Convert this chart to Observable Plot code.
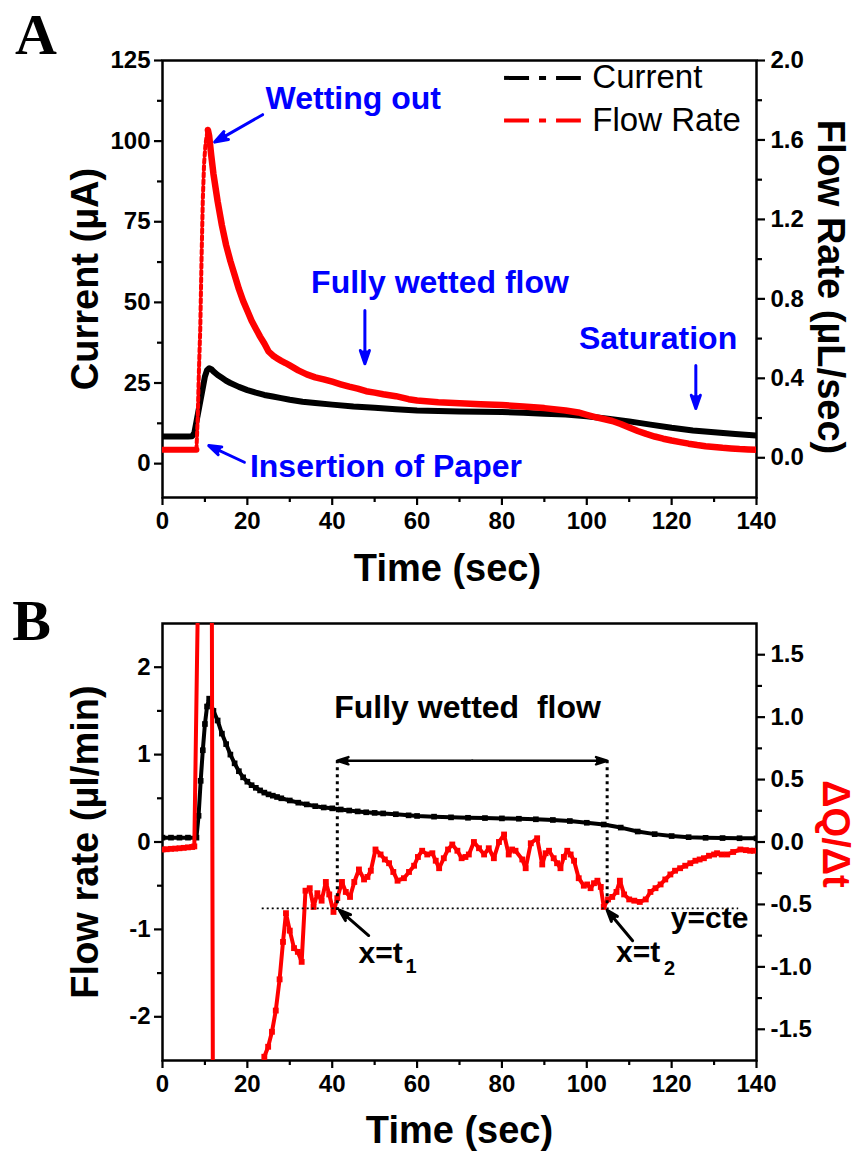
<!DOCTYPE html>
<html><head><meta charset="utf-8">
<script src="https://cdn.jsdelivr.net/npm/d3@7"></script>
<script src="https://cdn.jsdelivr.net/npm/@observablehq/plot@0.6"></script>
<style>
body{margin:0;background:#fff;}
#wrap{width:861px;height:1156px;position:relative;background:#fff;}
#wrap svg{display:block;overflow:visible;}
</style></head><body><div id="wrap"></div>
<script>
// ---------- Panel A data ----------
const aTime = [0,2,4,6,7,7.5,8,8.5,9,9.5,10,10.5,11,11.5,12,13,14,15,16,18,20,22,24,26,28,30,33,36,40,45,50,55,60,65,70,75,80,85,90,95,100,105,110,115,120,125,130,135,140];
const aCurrent = [8.4,8.4,8.4,8.4,8.5,9.5,13,16.5,20,23.5,27,29,29.6,29.3,28.6,27.5,26.6,25.7,25.0,23.8,22.8,22.0,21.3,20.8,20.3,19.8,19.2,18.8,18.3,17.7,17.3,16.9,16.5,16.3,16.2,16.1,16.0,15.8,15.5,15.2,14.7,13.9,13.1,12.1,11.1,10.3,9.7,9.2,8.7];
const aFlowTime = [0,2,4,6,7,8,8.3,8.6,8.9,9.2,9.5,9.8,10.1,10.4,10.7,11,11.5,12,13,14,15,16,17,18,19,20,21,22,23,24,25,26,27,28,29,30,32,34,36,38,40,42,44,46,48,50,52,55,58,60,65,70,75,80,85,90,95,98,100,102,104,106,108,110,112,114,116,118,120,122,124,126,128,130,132,134,136,138,140];
const aFlow = [0.04,0.04,0.04,0.04,0.04,0.04,0.2,0.45,0.65,1.0,1.3,1.48,1.57,1.62,1.65,1.62,1.52,1.43,1.29,1.17,1.07,0.99,0.92,0.85,0.79,0.74,0.69,0.65,0.61,0.575,0.535,0.515,0.50,0.488,0.477,0.465,0.44,0.42,0.405,0.395,0.383,0.37,0.358,0.348,0.335,0.328,0.32,0.31,0.295,0.288,0.28,0.275,0.27,0.266,0.258,0.25,0.238,0.228,0.216,0.205,0.195,0.185,0.17,0.152,0.135,0.12,0.107,0.096,0.087,0.079,0.071,0.064,0.058,0.054,0.05,0.047,0.044,0.042,0.04];
const aRiseStart = 8, aRiseEnd = 10.7;

// ---------- Panel B data ----------
const bTime = [0,2,4,6,8,8.5,9,9.5,10,10.5,11,12,13,14,15,16,17,18,19,20,21,22,23,24,25,26,27,28,30,32,34,36,38,40,42,44,46,48,50,52,55,58,60,64,68,72,76,80,84,88,92,96,100,104,108,112,116,120,124,128,132,136,140];
const bFlow = [0.05,0.05,0.05,0.05,0.05,0.3,0.7,1.05,1.35,1.55,1.64,1.5,1.39,1.24,1.12,1.0,0.9,0.81,0.74,0.69,0.65,0.62,0.59,0.565,0.545,0.53,0.515,0.5,0.475,0.45,0.43,0.41,0.395,0.385,0.372,0.36,0.35,0.34,0.333,0.327,0.318,0.305,0.298,0.29,0.282,0.277,0.274,0.27,0.266,0.26,0.252,0.24,0.22,0.2,0.165,0.12,0.09,0.068,0.055,0.048,0.045,0.043,0.042];
const bRateTime = [0,1,2,3,4,5,6,7,7.5,8.5,11.5,12,16,22.5,24,24.9,25.8,26.7,27.6,28.4,29.1,30,31,31.9,32.8,33.7,34.7,35.6,36.5,37.5,38.5,39.3,40.3,41.2,42.3,43.2,44.2,45.2,46.3,47.5,48.3,49.1,50.2,51.4,52.4,53.4,54.4,55.4,56.9,58.1,59.3,60.2,61.2,62.4,63.6,64.4,65.2,66.3,67.3,68.3,69.5,70.5,71.4,72.2,73.4,74.6,75.8,76.9,78.1,79.3,80.5,81.6,82.4,83.2,84.8,85.6,86.8,88.3,89.5,90.3,91.1,92.2,93,93.8,94.6,95.4,96.2,97,98.1,99.3,100.1,100.9,101.7,102.5,103.3,104,105,106,107,107.8,108.8,110,111.2,112.5,113.9,115,116.2,117.4,118.5,119.7,120.8,122,123.2,124.4,125.6,126.6,127.6,128.8,130,130.7,131.8,133.1,134.5,136.2,137.5,138.5,139.4];
const bRate = [-0.06,-0.058,-0.055,-0.053,-0.05,-0.047,-0.043,-0.04,-0.035,2.3,4.0,-4.0,-5.0,-2.4,-1.72,-1.64,-1.52,-1.35,-1.1,-0.8,-0.57,-0.71,-0.85,-0.88,-0.96,-0.39,-0.37,-0.52,-0.41,-0.47,-0.32,-0.42,-0.56,-0.45,-0.32,-0.40,-0.44,-0.32,-0.22,-0.30,-0.28,-0.23,-0.06,-0.10,-0.14,-0.17,-0.24,-0.31,-0.29,-0.24,-0.19,-0.12,-0.07,-0.10,-0.09,-0.15,-0.21,-0.13,-0.06,-0.02,-0.07,-0.13,-0.12,-0.10,0.0,-0.05,-0.10,-0.05,-0.13,0.0,0.06,-0.10,-0.06,-0.07,-0.14,-0.21,-0.01,0.03,-0.18,-0.09,-0.07,-0.13,-0.17,-0.21,-0.12,-0.07,-0.10,-0.15,-0.29,-0.35,-0.34,-0.37,-0.33,-0.31,-0.36,-0.52,-0.46,-0.44,-0.40,-0.31,-0.42,-0.46,-0.47,-0.48,-0.46,-0.40,-0.37,-0.34,-0.30,-0.26,-0.23,-0.21,-0.19,-0.17,-0.15,-0.14,-0.13,-0.11,-0.10,-0.09,-0.10,-0.10,-0.08,-0.06,-0.065,-0.07,-0.07];

// ---------- ticks ----------
const xMajor = [0,20,40,60,80,100,120,140];
const xMinor = [10,30,50,70,90,110,130];
const aCurTicks = [0,25,50,75,100,125];
const aCurMinor = [12.5,37.5,62.5,87.5,112.5];
const aFlowTicks = [0,0.4,0.8,1.2,1.6,2.0];
const aFlowMinor = [0.2,0.6,1.0,1.4,1.8];
const bFlowTicks = [-2,-1,0,1,2];
const bFlowMinor = [-1.5,-0.5,0.5,1.5];
const bRateTicks = [-1.5,-1,-0.5,0,0.5,1,1.5];
const bRateMinor = [-1.25,-0.75,-0.25,0.25,0.75,1.25];

// ---------- annotations ----------
const aNoteText = ["Wetting out","Fully wetted flow","Saturation","Insertion of Paper"];
const aNoteX = [24.3, 65.4, 116.8, 20.6];
const aNoteY = [113.1, 56.2, 38.8, -1.1];
const aNoteAnchor = ["start","middle","middle","start"];
const aArrowX1 = [23.6, 47.7, 125.7, 19.3];
const aArrowY1 = [108.2, 47.5, 30.4, 0.43];
const aArrowX2 = [12.3, 47.7, 125.7, 10.9];
const aArrowY2 = [99.7, 31.0, 17.1, 5.6];
const legendText = ["Current","Flow Rate"];
const legendColor = ["#000000","#ff0000"];
const legendY = [119.6, 106.4];
const legendX = [80.5, 98.6, 101.3];

const bMarkT = [41.2, 104.8];
const bMarkBottom = [-0.785, -0.73];
const bSpanY = 0.93;
const bCte = -0.531;           // on the ΔQ/Δt axis
const bCteX = [23.5, 135.8];

// ---------- scales ----------
const W = 861, ML = 162, MR = 105;
const aLeft = [-10.5, 125], aRight = [-0.2, 2.0];
const f2c = f => aLeft[0] + (f - aRight[0]) / (aRight[1] - aRight[0]) * (aLeft[1] - aLeft[0]);
const c2f = c => aRight[0] + (c - aLeft[0]) / (aLeft[1] - aLeft[0]) * (aRight[1] - aRight[0]);
const bLeft = [-2.5, 2.5], bRight = [-1.75, 1.75];
const r2l = r => r * (bLeft[1] / bRight[1]);
const l2r = l => l * (bRight[1] / bLeft[1]);
const fmt = d => (d < 0 ? "-" : "") + Math.abs(d);
const fmt1 = d => { const v = Math.round(d * 100) / 100; return (v < -1e-9 ? "-" : "") + Math.abs(v).toFixed(1); };

const style = {fontFamily: "'Liberation Sans', Arial, sans-serif", fontSize: "24px", fontWeight: "bold", color: "black", background: "white", overflow: "visible"};
const TW = 2.2;
const serif = "'Liberation Serif', 'Times New Roman', serif";

const aCur = aTime.map((t, i) => ({t, v: aCurrent[i]}));
const aFl = aFlowTime.map((t, i) => ({t, v: f2c(aFlow[i])}));

function note(txt, x, y, o) {
  return Plot.text([txt], {x: [x], y: [y], text: [txt], lineAnchor: "middle", fontWeight: "bold", ...o});
}

const plotA = Plot.plot({
  width: W, height: 590, marginLeft: ML, marginRight: MR, marginTop: 60, marginBottom: 93,
  x: {domain: [0, 140]}, y: {domain: aLeft},
  style,
  marks: [
    Plot.axisX(xMajor, {tickSize: 8, tickPadding: 6, strokeWidth: TW, tickFormat: fmt, label: null}),
    Plot.axisX(xMinor, {tickSize: 5, strokeWidth: TW, tickFormat: () => "", label: null}),
    Plot.axisY(aCurTicks, {anchor: "left", tickSize: 8, tickPadding: 4, strokeWidth: TW, tickFormat: fmt, label: null}),
    Plot.axisY(aCurMinor, {anchor: "left", tickSize: 5, strokeWidth: TW, tickFormat: () => "", label: null}),
    Plot.axisY(aFlowTicks.map(f2c), {anchor: "right", tickSize: 8, tickPadding: 6, strokeWidth: TW, tickFormat: d => fmt1(c2f(d)), label: null}),
    Plot.axisY(aFlowMinor.map(f2c), {anchor: "right", tickSize: 5, strokeWidth: TW, tickFormat: () => "", label: null}),
    Plot.frame({strokeWidth: 2.5}),
    Plot.line(aCur, {x: "t", y: "v", stroke: "#000", strokeWidth: 6, clip: true}),
    Plot.line(aFl.filter(d => d.t <= aRiseStart), {x: "t", y: "v", stroke: "#ff0000", strokeWidth: 6, clip: true}),
    Plot.line(aFl.filter(d => d.t >= aRiseStart && d.t <= aRiseEnd), {x: "t", y: "v", stroke: "#ff0000", strokeWidth: 4, strokeDasharray: "4,3", clip: true}),
    Plot.line(aFl.filter(d => d.t >= aRiseEnd), {x: "t", y: "v", stroke: "#ff0000", strokeWidth: 6.5, clip: true}),
    // legend
    ...legendText.map((s, i) => Plot.link([s], {x1: [legendX[0]], x2: [legendX[1]], y1: [legendY[i]], y2: [legendY[i]], stroke: legendColor[i], strokeWidth: 4, strokeDasharray: "25,10,7,10"})),
    ...legendText.map((s, i) => note(s, legendX[2], legendY[i], {textAnchor: "start", fontSize: 33, fontWeight: "normal", fill: "#000"})),
    // annotations
    ...aNoteText.map((s, i) => note(s, aNoteX[i], aNoteY[i], {textAnchor: aNoteAnchor[i], fontSize: 32, fill: "#0000ff"})),
    Plot.arrow(aNoteText, {x1: aArrowX1, y1: aArrowY1, x2: aArrowX2, y2: aArrowY2, stroke: "#0000ff", strokeWidth: 3, headLength: 7, headAngle: 38, strokeLinejoin: "miter"}),
    // titles
    Plot.text(["Time (sec)"], {text: d => d, frameAnchor: "bottom", dy: 71, dx: -12, textAnchor: "middle", lineAnchor: "middle", fontSize: 38, fontWeight: "bold"}),
    Plot.text(["Current (\u00b5A)"], {text: d => d, frameAnchor: "left", dx: -77, rotate: -90, textAnchor: "middle", lineAnchor: "middle", fontSize: 38, fontWeight: "bold"}),
    Plot.text(["Flow Rate (\u00b5L/sec)"], {text: d => d, frameAnchor: "right", dx: 74, dy: 8, rotate: 90, textAnchor: "middle", lineAnchor: "middle", fontSize: 38, fontWeight: "bold"}),
    Plot.text(["A"], {text: d => d, frameAnchor: "top-left", dx: -126.5, dy: -24.6, textAnchor: "middle", lineAnchor: "middle", fontSize: 58, fontWeight: "bold", fontFamily: serif})
  ]
});

const bBl = bTime.map((t, i) => ({t, v: bFlow[i]}));
const bRd = bRateTime.map((t, i) => ({t, v: r2l(bRate[i])}));
const bRdVis = bRd.filter(d => Math.abs(d.v) <= bLeft[1]);

const plotB = Plot.plot({
  width: W, height: 566, marginLeft: ML, marginRight: MR, marginTop: 33, marginBottom: 96,
  x: {domain: [0, 140]}, y: {domain: bLeft},
  style,
  marks: [
    Plot.axisX(xMajor, {tickSize: 8, tickPadding: 6, strokeWidth: TW, tickFormat: fmt, label: null}),
    Plot.axisX(xMinor, {tickSize: 5, strokeWidth: TW, tickFormat: () => "", label: null}),
    Plot.axisY(bFlowTicks, {anchor: "left", tickSize: 8, tickPadding: 4, strokeWidth: TW, tickFormat: fmt, label: null}),
    Plot.axisY(bFlowMinor, {anchor: "left", tickSize: 5, strokeWidth: TW, tickFormat: () => "", label: null}),
    Plot.axisY(bRateTicks.map(r2l), {anchor: "right", tickSize: 8, tickPadding: 6, strokeWidth: TW, tickFormat: d => fmt1(l2r(d)), label: null}),
    Plot.axisY(bRateMinor.map(r2l), {anchor: "right", tickSize: 5, strokeWidth: TW, tickFormat: () => "", label: null}),
    Plot.frame({strokeWidth: 2.5}),
    Plot.line(bBl, {x: "t", y: "v", stroke: "#000", strokeWidth: 4, clip: true}),
    Plot.dot(bBl, {x: "t", y: "v", symbol: "square", r: 3.2, fill: "#000", clip: true}),
    Plot.line(bRd, {x: "t", y: "v", stroke: "#ff0000", strokeWidth: 4, clip: true}),
    Plot.dot(bRdVis, {x: "t", y: "v", symbol: "square", r: 3.3, fill: "#ff0000", clip: true}),
    // y = cte
    Plot.ruleY([r2l(bCte)], {x1: bCteX[0], x2: bCteX[1], stroke: "#000", strokeWidth: 1.8, strokeDasharray: "2,3"}),
    // dotted markers for t1, t2
    Plot.ruleX(bMarkT, {y1: bSpanY, y2: (d, i) => bMarkBottom[i], stroke: "#000", strokeWidth: 3, strokeDasharray: "3,4"}),
    // double arrow
    Plot.arrow(bMarkT, {x1: (bMarkT[0] + bMarkT[1]) / 2, y1: bSpanY, x2: d => d, y2: bSpanY, stroke: "#000", strokeWidth: 2.5, headLength: 7, headAngle: 36, strokeLinejoin: "miter"}),
    note("Fully\u00a0wetted\u00a0\u00a0flow", 71.9, 1.54, {textAnchor: "middle", fontSize: 32, fill: "#000"}),
    note("x=t", 46.2, -1.277, {textAnchor: "start", fontSize: 30, fill: "#000"}),
    note("1", 57.3, -1.43, {textAnchor: "start", fontSize: 20, fill: "#000"}),
    note("x=t", 106.9, -1.262, {textAnchor: "start", fontSize: 30, fill: "#000"}),
    note("2", 118.2, -1.45, {textAnchor: "start", fontSize: 20, fill: "#000"}),
    note("y=cte", 138.1, -0.876, {textAnchor: "end", fontSize: 30, fill: "#000"}),
    Plot.arrow([0, 1], {x1: [48.6, 110.8], y1: [-1.07, -1.13], x2: [41.7, 104.8], y2: [-0.78, -0.78], stroke: "#000", strokeWidth: 3, headLength: 6, headAngle: 38, strokeLinejoin: "miter"}),
    // titles
    Plot.text(["Time (sec)"], {text: d => d, frameAnchor: "bottom", dy: 70, textAnchor: "middle", lineAnchor: "middle", fontSize: 38, fontWeight: "bold"}),
    Plot.text(["Flow rate (\u00b5l/min)"], {text: d => d, frameAnchor: "left", dx: -77, rotate: -90, textAnchor: "middle", lineAnchor: "middle", fontSize: 38, fontWeight: "bold"}),
    Plot.text(["\u0394Q/\u0394t"], {text: d => d, frameAnchor: "right", dx: 79, dy: -8, rotate: 90, textAnchor: "middle", lineAnchor: "middle", fontSize: 38, fontWeight: "bold", fill: "#ff0000"}),
    Plot.text(["B"], {text: d => d, frameAnchor: "top-left", dx: -131, dy: -1.6, textAnchor: "middle", lineAnchor: "middle", fontSize: 58, fontWeight: "bold", fontFamily: serif})
  ]
});

const wrap = document.getElementById("wrap");
wrap.append(plotA, plotB);
for (const g of wrap.querySelectorAll('g[aria-label="arrow"]')) {
  const s = g.getAttribute("stroke");
  if (s) g.setAttribute("fill", s);
}
</script></body></html>
